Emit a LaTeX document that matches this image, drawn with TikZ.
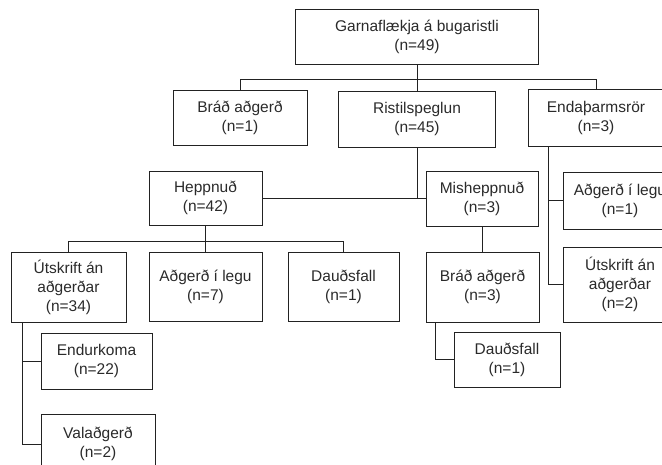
\documentclass[tikz,border=0pt]{standalone}
\usepackage{fontspec}
\setmainfont{Liberation Sans}
\usetikzlibrary{calc}
\definecolor{txt}{HTML}{2A2A2A}
\definecolor{ln}{HTML}{222222}
\begin{document}
\begin{tikzpicture}[x=1pt,y=-1pt,
  box/.style={draw=ln, line width=0.9pt, text=txt, rectangle, align=center, inner sep=0pt,
    font=\fontsize{15.5}{19}\selectfont},
  conn/.style={draw=ln, line width=0.9pt}]
\useasboundingbox (0,0) rectangle (662,465);
\clip (0,0) rectangle (662,465);
% row 1
\node[box, minimum width=243, minimum height=55] (top) at (417,36.5) {Garnaflækja á bugaristli\\(n=49)};
% row 2
\node[box, minimum width=134, minimum height=55] (brad1) at (240,117.5) {Bráð aðgerð\\(n=1)};
\node[box, minimum width=157, minimum height=56] (rist) at (417,119) {Ristilspeglun\\(n=45)};
\node[box, minimum width=136, minimum height=57] (enda) at (596,117.5) {Endaþarmsrör\\(n=3)};
% row 3
\node[box, minimum width=113, minimum height=54] (hepp) at (205.5,198) {Heppnuð\\(n=42)};
\node[box, minimum width=112, minimum height=55] (mis) at (482,198.5) {Misheppnuð\\(n=3)};
\node[box, minimum width=114, minimum height=57] (radg) at (620,200.5) {Aðgerð í legu\\(n=1)};
\node[box, minimum width=114, minimum height=75] (rutsk) at (620,284.5) {Útskrift án\\aðgerðar\\(n=2)};
% row 4
\node[box, minimum width=115, minimum height=70] (lutsk) at (68.5,287) {Útskrift án\\aðgerðar\\(n=34)};
\node[box, minimum width=113, minimum height=69] (ladg) at (205.5,286.5) {Aðgerð í legu\\(n=7)};
\node[box, minimum width=111, minimum height=69] (daud1) at (343.5,286.5) {Dauðsfall\\(n=1)};
\node[box, minimum width=113, minimum height=70] (brad2) at (482.5,287) {Bráð aðgerð\\(n=3)};
% row 5
\node[box, minimum width=111, minimum height=56] (endur) at (96.5,361) {Endurkoma\\(n=22)};
\node[box, minimum width=106, minimum height=55] (daud2) at (507,359.5) {Dauðsfall\\(n=1)};
\node[box, minimum width=114, minimum height=60] (val) at (98,444) {Valaðgerð\\(n=2)};
% connectors
\coordinate (h1) at ($(top.south)+(0,15)$);
\draw[conn] (top.south) -- (h1);
\draw[conn] (brad1.north) |- (h1) -| (enda.north);
\draw[conn] (rist.north) -- (rist.north |- h1);
\draw[conn] (hepp.east) -- (hepp.east -| mis.west);
\draw[conn] (rist.south) -- (rist.south |- hepp.east);
\coordinate (ev) at ([xshift=21pt]enda.south west);
\draw[conn] (ev) |- (rutsk.west);
\draw[conn] (radg.west) -- (radg.west -| ev);
\coordinate (h2) at ($(hepp.south)+(0,16)$);
\draw[conn] (hepp.south) -- (h2);
\draw[conn] (lutsk.north) |- (h2) -| (daud1.north);
\draw[conn] (ladg.north) -- (ladg.north |- h2);
\coordinate (lv) at ([xshift=12pt]lutsk.south west);
\draw[conn] (lv) |- (val.west);
\draw[conn] (endur.west) -- (endur.west -| lv);
\draw[conn] (mis.south) -- (mis.south |- brad2.north);
\coordinate (bv) at ([xshift=10pt]brad2.south west);
\draw[conn] (bv) |- (daud2.west);
\end{tikzpicture}
\end{document}
